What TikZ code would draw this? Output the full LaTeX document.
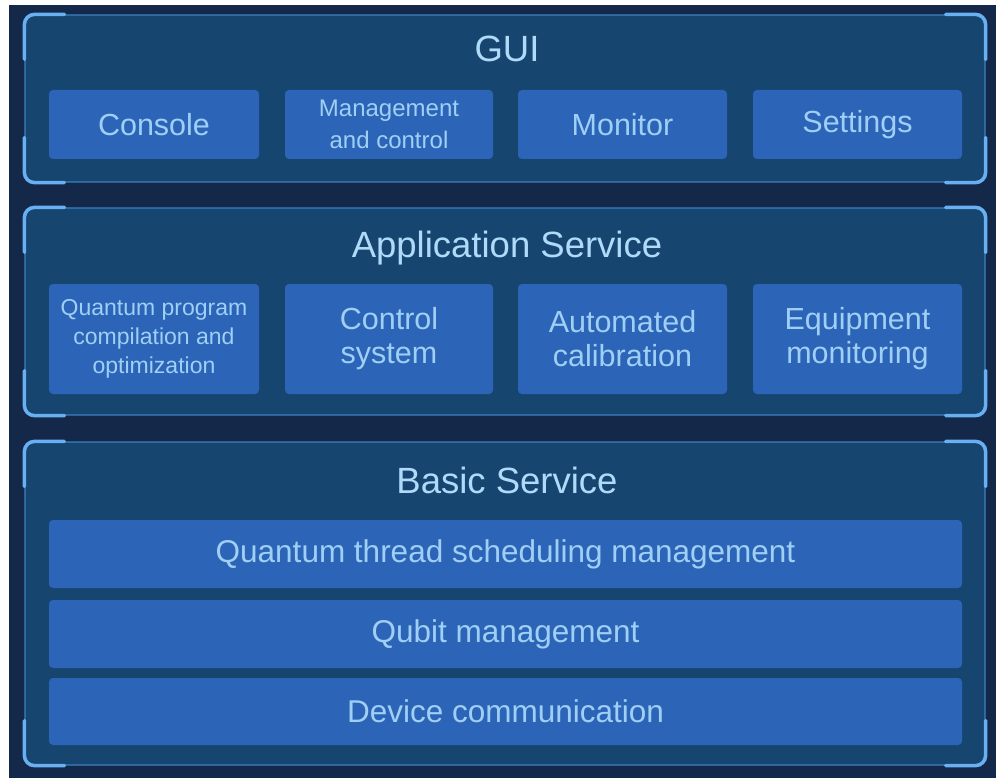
\documentclass[tikz,border=0pt]{standalone}
\usepackage{fontspec}
\setmainfont{Liberation Sans}
\usetikzlibrary{calc}
\definecolor{bgnavy}{HTML}{14294A}
\definecolor{panelfill}{HTML}{164570}
\definecolor{panelline}{HTML}{3D80C0}
\definecolor{boxfill}{HTML}{2C65B7}
\definecolor{bracketcol}{HTML}{68B0F2}
\definecolor{boxtext}{HTML}{A0CFF5}
\definecolor{titletext}{HTML}{B0DAFA}
\tikzset{
  panel/.style={draw=panelline, line width=1.2pt, fill=panelfill, rounded corners=10pt,
    minimum width=960pt, inner sep=0pt},
  modbox/.style={fill=boxfill, rounded corners=4pt, inner sep=0pt, text=boxtext,
    align=center, font=\fontsize{30.5}{34}\selectfont},
  smalltext/.style={font=\fontsize{23}{29}\selectfont},
  midtext/.style={font=\fontsize{24}{32}\selectfont},
  bartext/.style={font=\fontsize{31.5}{35}\selectfont},
  titletxt/.style={text=titletext, anchor=base, inner sep=0pt, font=\fontsize{36.5}{40}\selectfont},
  bracket/.style={draw=bracketcol, line width=3.5pt, rounded corners=10pt, line cap=round},
}
\newcommand{\cornerbrackets}[1]{%
  \draw[bracket] ($(#1.north west)+(0,45)$) -- (#1.north west) -- ($(#1.north west)+(40,0)$);
  \draw[bracket] ($(#1.north east)+(0,45)$) -- (#1.north east) -- ($(#1.north east)+(-40,0)$);
  \draw[bracket] ($(#1.south west)+(0,-45)$) -- (#1.south west) -- ($(#1.south west)+(40,0)$);
  \draw[bracket] ($(#1.south east)+(0,-45)$) -- (#1.south east) -- ($(#1.south east)+(-40,0)$);
}
\begin{document}
\begin{tikzpicture}[x=1pt, y=-1pt]
\useasboundingbox (0,0) rectangle (996,778);
\fill[white] (0,0) rectangle (996,778);
\fill[bgnavy] (9,5) rectangle (996,778);

% panels
\node[panel, minimum height=167pt] (gui) at (505,98.5) {};
\node[panel, minimum height=207pt] (app) at (505,311.5) {};
\node[panel, minimum height=323pt] (basic) at (505,603.5) {};
\cornerbrackets{gui}
\cornerbrackets{app}
\cornerbrackets{basic}

% titles
\node[titletxt] (guititle) at (507,62) {GUI};
\node[titletxt] (apptitle) at (507,258) {Application Service};
\node[titletxt] (basictitle) at (507,493) {Basic Service};

% GUI modules
\node[modbox, minimum width=210pt, minimum height=69pt] (console) at (154,124.5) {Console};
\node[modbox, midtext, minimum width=208pt, minimum height=69pt] (mgmt) at (389,124.5) {Management\\and control};
\node[modbox, minimum width=209pt, minimum height=69pt] (monitor) at (622.5,124.5) {Monitor};
\node[modbox, minimum width=209pt, minimum height=69pt] (settings) at (857.5,124.5) {Settings};

% Application modules
\node[modbox, smalltext, minimum width=210pt, minimum height=110pt] (qpc) at (154,339) {Quantum program\\compilation and\\optimization};
\node[modbox, minimum width=208pt, minimum height=110pt] (ctrl) at (389,339) {Control\\system};
\node[modbox, minimum width=209pt, minimum height=110pt] (calib) at (622.5,339) {Automated\\calibration};
\node[modbox, minimum width=209pt, minimum height=110pt] (equip) at (857.5,339) {Equipment\\monitoring};

% Basic service bars
\node[modbox, bartext, minimum width=913pt, minimum height=68pt] (qts) at (505.5,554) {Quantum thread scheduling management};
\node[modbox, bartext, minimum width=913pt, minimum height=68pt] (qubit) at (505.5,634) {Qubit management};
\node[modbox, bartext, minimum width=913pt, minimum height=67pt] (devcom) at (505.5,711.5) {Device communication};
\end{tikzpicture}
\end{document}
